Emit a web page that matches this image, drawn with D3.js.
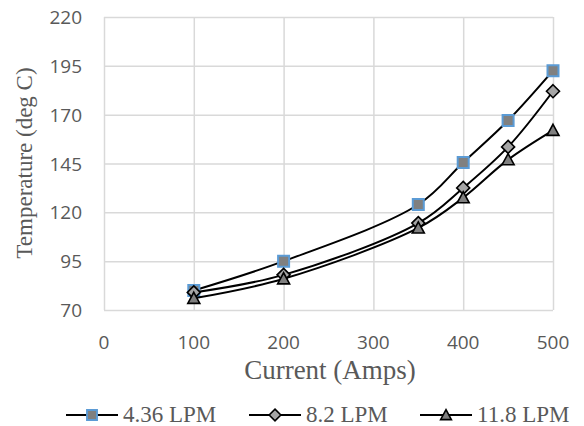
<!DOCTYPE html>
<html>
<head>
<meta charset="utf-8">
<script src="https://cdn.jsdelivr.net/npm/d3@7"></script>
<style>
  body { margin: 0; background: #fff; }
  svg { display: block; }
</style>
</head>
<body>
<svg width="584" height="426"></svg>
<script>
"use strict";

const current = [100, 200, 350, 400, 450, 500];
const lpm436 = [80, 95, 124, 145.5, 167, 192.5];
const lpm82 = [79, 88, 114.5, 132.5, 153.5, 182];
const lpm118 = [76, 86, 112, 127.5, 147, 162];
const seriesNames = ["4.36 LPM", "8.2 LPM", "11.8 LPM"];
const xTicks = [0, 100, 200, 300, 400, 500];
const yTicks = [70, 95, 120, 145, 170, 195, 220];

const svg = d3.select("svg");

// plot box 104..553 x 17..310
const x = d3.scaleLinear().domain([0, 500]).range([104, 553]);
const y = d3.scaleLinear().domain([70, 220]).range([310, 17]);

// grid
svg.append("g")
  .attr("transform", "translate(0,310)")
  .call(d3.axisBottom(x).tickValues(xTicks).tickSize(-293).tickFormat(""))
  .call((g) => g.select(".domain").remove())
  .selectAll("line").attr("stroke", "#d9d9d9").attr("stroke-width", 1.5);

svg.append("g")
  .attr("transform", "translate(104,0)")
  .call(d3.axisLeft(y).tickValues(yTicks).tickSize(-449).tickFormat(""))
  .call((g) => g.select(".domain").remove())
  .selectAll("line").attr("stroke", "#d9d9d9").attr("stroke-width", 1.5);

// tick labels
svg.append("g").selectAll("text")
  .data(xTicks).enter().append("text")
  .attr("x", (d) => x(d))
  .attr("y", 349)
  .attr("text-anchor", "middle")
  .style("font", "19px 'Open Sans', sans-serif")
  .style("fill", "#595959")
  .text((d) => d);

svg.append("g").selectAll("text")
  .data(yTicks).enter().append("text")
  .attr("x", 82)
  .attr("y", (d) => y(d) + 7)
  .attr("text-anchor", "end")
  .style("font", "19px 'Open Sans', sans-serif")
  .style("fill", "#595959")
  .text((d) => d);

// axis titles
svg.append("text")
  .attr("x", 330).attr("y", 379)
  .attr("text-anchor", "middle")
  .style("font", "27px 'Liberation Serif', serif")
  .style("fill", "#595959")
  .text("Current (Amps)");

svg.append("text")
  .attr("transform", "translate(32,163) rotate(-90)")
  .attr("text-anchor", "middle")
  .style("font", "23px 'Liberation Serif', serif")
  .style("fill", "#595959")
  .text("Temperature (deg C)");

const line = d3.line()
  .x((d) => x(d[0]))
  .y((d) => y(d[1]))
  .curve(d3.curveCatmullRom.alpha(0.5));

const allSeries = [lpm436, lpm82, lpm118];
const strokes = ["#5b9bd5", "#000", "#000"];
const fills = ["#808080", "#a6a6a6", "#808080"];

// marker outlines, r = half size
function shapePath(i, r) {
  if (i === 0) return `M${-r},${-r}H${r}V${r}H${-r}Z`;
  if (i === 1) return `M0,${-r}L${r},0L0,${r}L${-r},0Z`;
  return `M0,${-r}L${r},${r * 0.85}H${-r}Z`;
}

function marker(g, i, scale) {
  const r = [5.5, 6.5, 6][i] * scale;
  g.append("path")
    .attr("d", shapePath(i, r))
    .attr("fill", fills[i])
    .attr("stroke", strokes[i])
    .attr("stroke-width", i === 0 ? 2 : 1.6)
    .attr("stroke-linejoin", "miter");
}

allSeries.forEach((vals, i) => {
  const pts = current.map((c, j) => [c, vals[j]]);
  svg.append("path")
    .datum(pts)
    .attr("fill", "none")
    .attr("stroke", "#000")
    .attr("stroke-width", 2)
    .attr("d", line);
  svg.append("g").selectAll("g")
    .data(pts).enter().append("g")
    .attr("transform", (d) => `translate(${x(d[0])},${y(d[1])})`)
    .each(function () { marker(d3.select(this), i, 1); });
});

// legend
const legendX = [92, 275, 446];
seriesNames.forEach((name, i) => {
  const g = svg.append("g").attr("transform", `translate(${legendX[i]},415)`);
  g.append("line").attr("x1", -26).attr("x2", 26)
    .attr("stroke", "#000").attr("stroke-width", 2);
  marker(g, i, 0.9);
  g.append("text")
    .attr("x", 31).attr("y", 7)
    .style("font", "23px 'Liberation Serif', serif")
    .style("fill", "#595959")
    .text(name);
});
</script>
</body>
</html>
